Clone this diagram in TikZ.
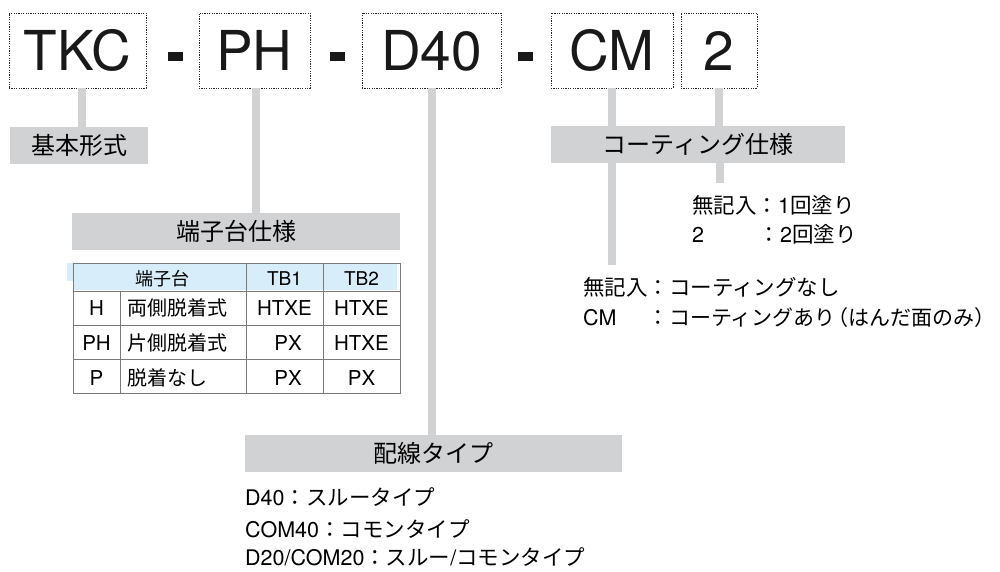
\documentclass[tikz,border=0pt]{standalone}
\usepackage{fontspec}
\setmainfont{TeX Gyre Heros}
\newfontfamily\jp{Noto Sans CJK JP}
\newfontfamily\lat{TeX Gyre Heros}
\definecolor{lbl}{HTML}{D1D2D4}
\definecolor{hdr}{HTML}{D7EDF9}
\definecolor{gridc}{HTML}{7A7A7A}
\begin{document}
\begin{tikzpicture}[x=1pt,y=-1pt,
  codebox/.style={draw=black!85, line width=0.8pt, dash pattern=on 1.2pt off 1.2pt,
    minimum height=75, inner sep=0, font=\lat\fontsize{55}{60}\selectfont, text=black!90},
  hyph/.style={fill=black!90, minimum width=15, minimum height=9, inner sep=0},
  lblbox/.style={fill=lbl, inner sep=0, minimum height=37, font=\jp\fontsize{24}{28}\selectfont},
  conn/.style={draw=lbl, line width=8},
  gridl/.style={draw=gridc, line width=0.9pt},
  cell/.style={anchor=base, inner sep=0, font=\lat\fontsize{20.5}{24}\selectfont},
  jcell/.style={anchor=base west, inner sep=0, font=\jp\fontsize{20}{24}\selectfont},
  hcell/.style={anchor=base, inner sep=0, font=\lat\fontsize{19}{22}\selectfont},
  desc/.style={anchor=base west, inner sep=0, font=\jp\fontsize{21.5}{26}\selectfont}]
\useasboundingbox (0,0) rectangle (1000,571);

% code boxes
\node[codebox, minimum width=137] (tkc) at (77.5,50.5) {TKC};
\node[codebox, minimum width=111] (ph) at (254.5,50.5) {PH};
\node[codebox, minimum width=139] (d40) at (431.5,50.5) {D40};
\node[codebox, minimum width=122] (cm) at (612,50.5) {CM};
\node[codebox, minimum width=76] (two) at (719,50.5) {2};
\node[hyph] (h1) at (175.5,56.5) {};
\node[hyph] (h2) at (337.5,56.5) {};
\node[hyph] (h3) at (525.5,56.5) {};

% labels
\node[lblbox, minimum width=138] (base) at (79,145.5) {基本形式};
\node[lblbox, minimum width=328] (term) at (236,231.5) {端子台仕様};
\node[lblbox, minimum width=294] (coat) at (698,144.5) {コーティング仕様};
\node[lblbox, minimum width=377] (wire) at (433.5,453.5) {配線タイプ};

% connectors
\draw[conn] ([xshift=4.5]tkc.south) -- ([xshift=4.5]tkc.south |- base.north);
\draw[conn] ([xshift=1]ph.south) -- ([xshift=1]ph.south |- term.north);
\draw[conn] (d40.south) -- (d40.south |- wire.north);
\draw[conn] (cm.south) -- (cm.south |- coat.north);
\draw[conn] (two.south) -- (two.south |- coat.north);
\coordinate (cend1) at (612,265);
\coordinate (cend2) at (719.5,183);
\draw[conn] (coat.south -| cend1) -- (cend1);
\draw[conn] (coat.south -| cend2) -- (cend2);

% table
\fill[hdr] (73,263) rectangle (397,290);
\fill[hdr] (67,263) rectangle (73,281);
\draw[gridl] (73,263) rectangle (400,393);
\draw[gridl] (73,291) -- (400,291);
\draw[gridl] (73,325) -- (400,325);
\draw[gridl] (73,359) -- (400,359);
\draw[gridl] (120,291) -- (120,393);
\draw[gridl] (246,263) -- (246,393);
\draw[gridl] (323,263) -- (323,393);

\node[hcell, font=\jp\fontsize{18}{22}\selectfont] (th1) at (162,285) {端子台};
\node[hcell] (th2) at (284.5,285) {TB1};
\node[hcell] (th3) at (361.5,285) {TB2};

\node[cell] (r1a) at (96.5,315) {H};
\node[jcell] (r1b) at (127,315) {両側脱着式};
\node[cell] (r1c) at (284.5,315) {HTXE};
\node[cell] (r1d) at (361.5,315) {HTXE};

\node[cell] (r2a) at (96.5,350) {PH};
\node[jcell] (r2b) at (127,350) {片側脱着式};
\node[cell] (r2c) at (288,350) {PX};
\node[cell] (r2d) at (361.5,350) {HTXE};

\node[cell] (r3a) at (96.5,385) {P};
\node[jcell] (r3b) at (127,385) {脱着なし};
\node[cell] (r3c) at (288,385) {PX};
\node[cell] (r3d) at (361.5,385) {PX};

% descriptions
\node[desc] (d1) at (692,213) {無記入：{\lat 1}回塗り};
\node[desc] (d2) at (692,242) {\rlap{\lat 2}\hphantom{無記入}\kern2pt：{\lat 2}回塗り};
\node[desc] (d3) at (583,295) {無記入：コーティングなし};
\node[desc] (d4) at (583,325) {\rlap{\lat CM}\hphantom{無記入}：{\fontsize{21}{26}\selectfont コーティングあり\kern-0.4em（はんだ面のみ）}};
\node[desc] (w1) at (245,505) {{\lat D40}：スルータイプ};
\node[desc] (w2) at (245,537) {{\lat COM40}：コモンタイプ};
\node[desc] (w3) at (245,565) {{\lat D20/COM20}：スルー{\lat /}コモンタイプ};
\end{tikzpicture}
\end{document}
